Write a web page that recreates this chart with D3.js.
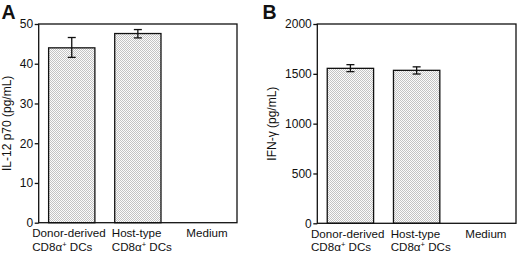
<!DOCTYPE html>
<html>
<head>
<meta charset="utf-8">
<script src="https://cdn.jsdelivr.net/npm/d3@7"></script>
<style>
  body { margin: 0; background: #fff; }
  svg { display: block; font-family: "Liberation Sans", Arial, sans-serif; }
</style>
</head>
<body>
<svg id="chart" width="520" height="254"></svg>
<script>
// categories on the x axis
const categories = ['donor', 'host', 'medium'];
const catLine1 = ['Donor-derived', 'Host-type', 'Medium'];
const catLine2 = ['CD8α', 'CD8α', ''];

// panel A: IL-12 p70
const il12Values = [44.0, 47.6, 0];
const il12Low = [41.6, 46.5, 0];
const il12High = [46.6, 48.6, 0];
const il12Ticks = [0, 10, 20, 30, 40, 50];

// panel B: IFN-gamma
const ifnValues = [1555, 1535, 0];
const ifnLow = [1522, 1498, 0];
const ifnHigh = [1592, 1570, 0];
const ifnTicks = [0, 500, 1000, 1500, 2000];

const svg = d3.select('#chart');

// stipple fill for the bars (sparse grey dots)
const defs = svg.append('defs');
const pat = defs.append('pattern')
  .attr('id', 'stipple')
  .attr('patternUnits', 'userSpaceOnUse')
  .attr('width', 2).attr('height', 2);
pat.append('rect').attr('width', 2).attr('height', 2).attr('fill', '#fcfcfc');
pat.append('rect').attr('x', 0).attr('y', 0).attr('width', 1).attr('height', 1).attr('fill', '#c4c4c4');
pat.append('rect').attr('x', 1).attr('y', 1).attr('width', 1).attr('height', 1).attr('fill', '#c4c4c4');

function drawPanel(opts) {
  const { left, right, top, bottom, values, low, high, ticks, letter, title, titleX } = opts;

  const x = d3.scaleBand()
    .domain(categories)
    .range([left, right])
    .paddingInner(0.3)
    .paddingOuter(0.15);

  const y = d3.scaleLinear()
    .domain([ticks[0], ticks[ticks.length - 1]])
    .range([bottom, top]);

  const g = svg.append('g');

  // bars
  g.selectAll('rect.bar')
    .data(categories.map((c, i) => ({ c, v: values[i] })).filter(d => d.v > 0))
    .join('rect')
      .attr('class', 'bar')
      .attr('x', d => x(d.c))
      .attr('y', d => y(d.v))
      .attr('width', x.bandwidth())
      .attr('height', d => y(0) - y(d.v))
      .attr('fill', 'url(#stipple)')
      .attr('stroke', '#111')
      .attr('stroke-width', 1.3);

  // error bars
  const errs = categories.map((c, i) => ({ c, lo: low[i], hi: high[i], v: values[i] })).filter(d => d.v > 0);
  const eg = g.selectAll('g.err').data(errs).join('g').attr('class', 'err')
    .attr('stroke', '#111').attr('stroke-width', 1.3);
  const cx = d => x(d.c) + x.bandwidth() / 2;
  eg.append('line')
    .attr('x1', cx).attr('x2', cx)
    .attr('y1', d => y(d.lo)).attr('y2', d => y(d.hi));
  eg.append('line')
    .attr('x1', d => cx(d) - 4).attr('x2', d => cx(d) + 4)
    .attr('y1', d => y(d.hi)).attr('y2', d => y(d.hi));
  eg.append('line')
    .attr('x1', d => cx(d) - 4).attr('x2', d => cx(d) + 4)
    .attr('y1', d => y(d.lo)).attr('y2', d => y(d.lo));

  // frame
  g.append('rect')
    .attr('x', left).attr('y', top)
    .attr('width', right - left).attr('height', bottom - top)
    .attr('fill', 'none').attr('stroke', '#111').attr('stroke-width', 1.3);

  // y axis
  const ya = g.append('g')
    .attr('transform', `translate(${left},0)`)
    .call(d3.axisLeft(y).tickValues(ticks).tickFormat(d3.format('d')).tickSize(4).tickPadding(1.5));
  ya.select('.domain').remove();
  ya.selectAll('line').attr('stroke', '#111').attr('stroke-width', 1.3);
  ya.selectAll('text').attr('font-size', 12).attr('fill', '#111')
    .attr('font-family', '"Liberation Sans", Arial, sans-serif');

  // x labels: two left-aligned lines starting at the band's left edge,
  // pulled left when they would run into the next band
  const xl = g.selectAll('g.xl').data(categories).join('g').attr('class', 'xl')
    .attr('font-size', 11.6).attr('fill', '#111');
  xl.append('text').attr('class', 'l1').attr('y', bottom + 14.5).text((d, i) => catLine1[i]);
  xl.append('text').attr('class', 'l2').attr('y', bottom + 28).each(function(d, i) {
    if (catLine2[i] === '') return;
    const t = d3.select(this);
    t.append('tspan').text(catLine2[i]);
    t.append('tspan').attr('dy', -4).attr('font-size', 7.5).text('+');
    t.append('tspan').attr('dy', 4).text(' DCs');
  });
  xl.each(function(d, i) {
    const grp = d3.select(this);
    const w = d3.max(grp.selectAll('text').nodes(), n => n.getComputedTextLength());
    let x0 = x(d);
    if (i < categories.length - 1) {
      const limit = x(categories[i + 1]) - 9;
      if (x0 + w > limit) x0 = limit - w;
    } else {
      x0 = x(d) + x.bandwidth() / 2 - w / 2 + 3;
    }
    grp.attr('transform', `translate(${x0},0)`);
  });

  // axis title
  g.append('text')
    .attr('transform', `translate(${titleX},${(top + bottom) / 2}) rotate(-90)`)
    .attr('text-anchor', 'middle')
    .attr('font-size', 12)
    .attr('fill', '#111')
    .text(title);

  // panel letter
  g.append('text')
    .attr('x', opts.letterX).attr('y', 19)
    .attr('font-size', 19.5).attr('font-weight', 'bold').attr('fill', '#111')
    .text(letter);
}

drawPanel({
  left: 38.7, right: 237, top: 24, bottom: 222.7,
  values: il12Values, low: il12Low, high: il12High, ticks: il12Ticks,
  letter: 'A', letterX: 1.5, title: 'IL-12 p70 (pg/mL)', titleX: 11
});

drawPanel({
  left: 317.3, right: 516, top: 24, bottom: 223.3,
  values: ifnValues, low: ifnLow, high: ifnHigh, ticks: ifnTicks,
  letter: 'B', letterX: 262.5, title: 'IFN-γ (pg/mL)', titleX: 276
});
</script>
</body>
</html>
